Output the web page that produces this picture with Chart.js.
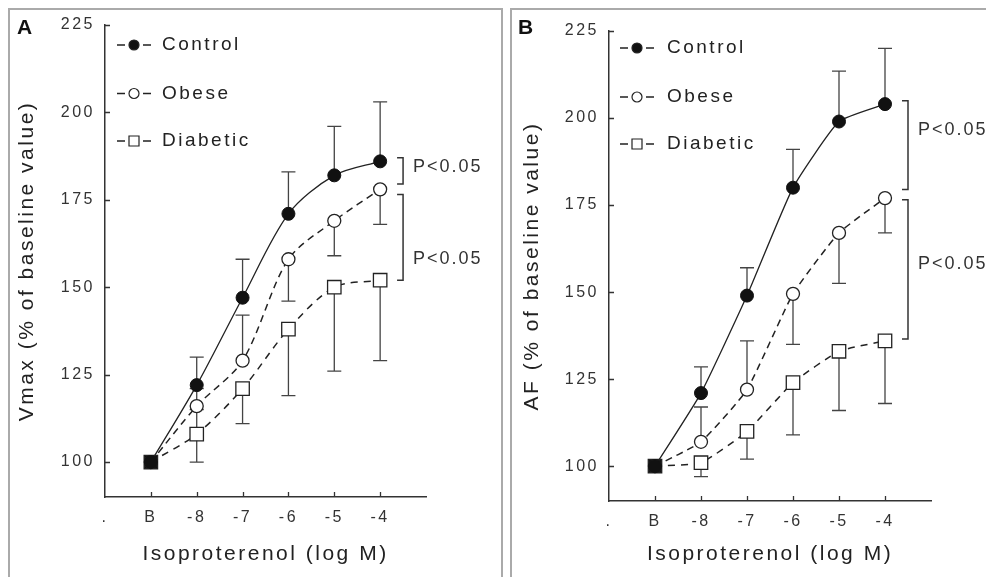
<!DOCTYPE html>
<html>
<head>
<meta charset="utf-8">
<script src="https://cdn.jsdelivr.net/npm/chart.js@4.4.1/dist/chart.umd.min.js"></script>
<style>
  body { margin: 0; background: #fff; width: 986px; height: 577px; overflow: hidden; position: relative; }
  .frame { position: absolute; border: 2px solid #aaa; box-sizing: border-box; }
  canvas { position: absolute; top: 0; }
</style>
</head>
<body>
<div class="frame" style="left:8px; top:8px; width:495px; height:620px;"></div>
<div class="frame" style="left:510px; top:8px; width:600px; height:620px;"></div>
<canvas id="chartA" width="505" height="577" style="left:0"></canvas>
<canvas id="chartB" width="481" height="577" style="left:505px"></canvas>
<script>
// x categories (first slot is the '.' label at the axis origin)
const categories = ['B', '-8', '-7', '-6', '-5', '-4'];
const tickLabels = ['.', ...categories, ''];
const yTicks = [100, 125, 150, 175, 200, 225];

// Panel A - Vmax
const controlA = [100, 122, 147, 171, 182, 186];
const obeseA = [100, 116, 129, 158, 169, 178];
const diabeticA = [100, 108, 121, 138, 150, 152];
// error bar ends, null = not drawn
const controlA_hi = [null, 130, 158, 183, 196, 203];
const obeseA_hi = [null, 121, 142, null, null, null];
const obeseA_lo = [null, null, null, 146, 159, 168];
const diabeticA_hi = [null, 115, null, null, null, null];
const diabeticA_lo = [null, 100, 111, 119, 126, 129];

// Panel B - AF
const controlB = [100, 121, 149, 180, 199, 204];
const obeseB = [100, 107, 122, 149.5, 167, 177];
const diabeticB = [100, 101, 110, 124, 133, 136];
const controlB_hi = [null, 128.5, 157, 191, 213.5, 220];
const obeseB_hi = [null, 117, 136, null, null, null];
const obeseB_lo = [null, null, null, 135, 152.5, 167];
const diabeticB_lo = [null, 97, 102, 109, 116, 118];

// P value brackets: [from, to, text position]
const bracketsA = [[187, 179.5, 184.5], [176.5, 152, 158]];
const bracketsB = [[205, 179.5, 196.5], [176.5, 136.5, 158]];

const FONT = "'Liberation Sans', Arial, Helvetica, sans-serif";
Chart.defaults.font.family = FONT;

function drawMarker(ctx, style, x, y, r, fill) {
    ctx.beginPath();
    if (style === 'rect') {
        ctx.rect(x - r, y - r, 2 * r, 2 * r);
    } else {
        ctx.arc(x, y, r, 0, Math.PI * 2);
    }
    ctx.fillStyle = fill;
    ctx.fill();
    ctx.stroke();
}

const extras = {
    id: 'extras',
    beforeDraw(chart) {
        chart.ctx.letterSpacing = '2.5px';
    },
    beforeDatasetsDraw(chart) {
        const ctx = chart.ctx;
        const x = chart.scales.x, y = chart.scales.y;
        ctx.save();
        ctx.strokeStyle = '#444';
        ctx.lineWidth = 1.3;
        // error bars
        chart.data.datasets.forEach(ds => {
            ds.data.forEach((p, i) => {
                [ds.errHi, ds.errLo].forEach(arr => {
                    if (!arr || arr[i] == null) return;
                    const px = x.getPixelForValue(p.x);
                    const py0 = y.getPixelForValue(p.y);
                    const py1 = y.getPixelForValue(arr[i]);
                    ctx.beginPath();
                    ctx.moveTo(px, py0);
                    ctx.lineTo(px, py1);
                    ctx.moveTo(px - 7, py1);
                    ctx.lineTo(px + 7, py1);
                    ctx.stroke();
                });
            });
        });
        // inward tick marks
        ctx.strokeStyle = '#333';
        ctx.lineWidth = 1.3;
        ctx.beginPath();
        yTicks.forEach(v => {
            const py = Math.round(y.getPixelForValue(v)) + 0.5;
            ctx.moveTo(x.left, py);
            ctx.lineTo(x.left + 5, py);
        });
        categories.forEach((c, i) => {
            const px = Math.round(x.getPixelForValue(i + 1)) + 0.5;
            ctx.moveTo(px, y.bottom);
            ctx.lineTo(px, y.bottom - 5);
        });
        ctx.stroke();
        ctx.restore();
    },
    afterDraw(chart, args, opts) {
        const ctx = chart.ctx;
        const x = chart.scales.x, y = chart.scales.y;
        ctx.save();
        // brackets
        ctx.strokeStyle = '#333';
        ctx.lineWidth = 1.5;
        ctx.fillStyle = '#333';
        ctx.font = '18px ' + FONT;
        ctx.letterSpacing = '2px';
        ctx.textBaseline = 'middle';
        ctx.textAlign = 'left';
        const bx = x.getPixelForValue(6.5);
        opts.brackets.forEach(b => {
            const y1 = y.getPixelForValue(b[0]), y2 = y.getPixelForValue(b[1]);
            ctx.beginPath();
            ctx.moveTo(bx - 6, y1);
            ctx.lineTo(bx, y1);
            ctx.lineTo(bx, y2);
            ctx.lineTo(bx - 6, y2);
            ctx.stroke();
            ctx.fillText('P<0.05', bx + 10, y.getPixelForValue(b[2]));
        });
        // legend
        const lg = opts.legend;
        ctx.font = '19px ' + FONT;
        ctx.letterSpacing = '2.5px';
        chart.data.datasets.forEach((ds, i) => {
            const ry = lg.rows[i];
            ctx.strokeStyle = '#222';
            ctx.lineWidth = 1.5;
            ctx.beginPath();
            ctx.moveTo(lg.x, ry);
            ctx.lineTo(lg.x + 8, ry);
            ctx.moveTo(lg.x + 26, ry);
            ctx.lineTo(lg.x + 34, ry);
            ctx.stroke();
            ctx.lineWidth = 1.2;
            drawMarker(ctx, ds.pointStyle, lg.x + 17, ry, 5,
                ds.label === 'Control' ? '#111' : '#fff');
            ctx.fillStyle = '#222';
            ctx.fillText(ds.label, lg.textX, ry);
        });
        // panel letter
        ctx.font = 'bold 21px ' + FONT;
        ctx.letterSpacing = '0px';
        ctx.fillStyle = '#111';
        ctx.fillText(opts.letter.text, opts.letter.x, opts.letter.y);
        ctx.restore();
    }
};

function points(vals) {
    return vals.map((v, i) => ({ x: i + 1, y: v }));
}

function makePanel(id, p) {
    const datasets = [
        {
            label: 'Control', data: points(p.control), errHi: p.controlHi, errLo: null,
            borderColor: '#222', borderWidth: 1.3, borderDash: [],
            pointStyle: 'circle', pointRadius: 6.5, pointBackgroundColor: '#111',
            pointBorderColor: '#111', pointBorderWidth: 1, tension: p.tension
        },
        {
            label: 'Obese', data: points(p.obese), errHi: p.obeseHi, errLo: p.obeseLo,
            borderColor: '#222', borderWidth: 1.5, borderDash: [7, 5],
            pointStyle: 'circle', pointRadius: 6.5, pointBackgroundColor: '#fff',
            pointBorderColor: '#222', pointBorderWidth: 1.3, tension: p.tension
        },
        {
            label: 'Diabetic', data: points(p.diabetic), errHi: p.diabeticHi, errLo: p.diabeticLo,
            borderColor: '#222', borderWidth: 1.5, borderDash: [7, 6],
            pointStyle: 'rect', pointRadius: 9.5,
            pointBackgroundColor: c => c.dataIndex === 0 ? '#111' : '#fff',
            pointBorderColor: '#222', pointBorderWidth: 1.3, tension: p.tension
        }
    ];
    return new Chart(document.getElementById(id), {
        type: 'line',
        data: { datasets: datasets },
        options: {
            responsive: false,
            animation: false,
            events: [],
            layout: { padding: { top: p.top, right: p.right, bottom: 0, left: 0 } },
            scales: {
                x: {
                    type: 'linear', min: 0, max: 7,
                    afterFit: s => { s.height = p.xHeight; },
                    afterBuildTicks: s => { s.ticks = tickLabels.map((t, i) => ({ value: i })); },
                    grid: { display: false, drawTicks: false },
                    border: { color: '#333', width: 1.5 },
                    ticks: {
                        color: '#333', font: { size: 16 }, padding: 11,
                        maxRotation: 0, autoSkip: false,
                        callback: v => tickLabels[v]
                    },
                    title: {
                        display: true, text: 'Isoproterenol (log M)', color: '#222',
                        font: { size: 21 }, padding: { top: 0, bottom: 10 }
                    }
                },
                y: {
                    min: 90, max: 225,
                    afterFit: s => { s.width = p.yWidth; },
                    afterBuildTicks: s => { s.ticks = yTicks.map(v => ({ value: v })); },
                    grid: { display: false, drawTicks: false },
                    border: { color: '#333', width: 1.5 },
                    ticks: { color: '#333', font: { size: 16 }, padding: 10 },
                    title: {
                        display: true, text: p.yTitle, color: '#222',
                        font: { size: 21 }, padding: { top: 15, bottom: 0 }
                    }
                }
            },
            plugins: {
                legend: { display: false },
                tooltip: { enabled: false },
                extras: {
                    brackets: p.brackets,
                    legend: p.legend,
                    letter: p.letter
                }
            }
        },
        plugins: [extras]
    });
}

makePanel('chartA', {
    control: controlA, obese: obeseA, diabetic: diabeticA,
    controlHi: controlA_hi, obeseHi: obeseA_hi, obeseLo: obeseA_lo,
    diabeticHi: diabeticA_hi, diabeticLo: diabeticA_lo,
    brackets: bracketsA, tension: 0.3,
    yTitle: 'Vmax (% of baseline value)',
    top: 25, right: 79, xHeight: 80, yWidth: 105,
    legend: { x: 117, textX: 162, rows: [45, 93.5, 141] },
    letter: { text: 'A', x: 17, y: 28 }
});

makePanel('chartB', {
    control: controlB, obese: obeseB, diabetic: diabeticB,
    controlHi: controlB_hi, obeseHi: obeseB_hi, obeseLo: obeseB_lo,
    diabeticHi: null, diabeticLo: diabeticB_lo,
    brackets: bracketsB, tension: 0.15,
    yTitle: 'AF (% of baseline value)',
    top: 31, right: 55, xHeight: 76, yWidth: 104,
    legend: { x: 115, textX: 162, rows: [48, 97, 144] },
    letter: { text: 'B', x: 13, y: 28 }
});
</script>
</body>
</html>
